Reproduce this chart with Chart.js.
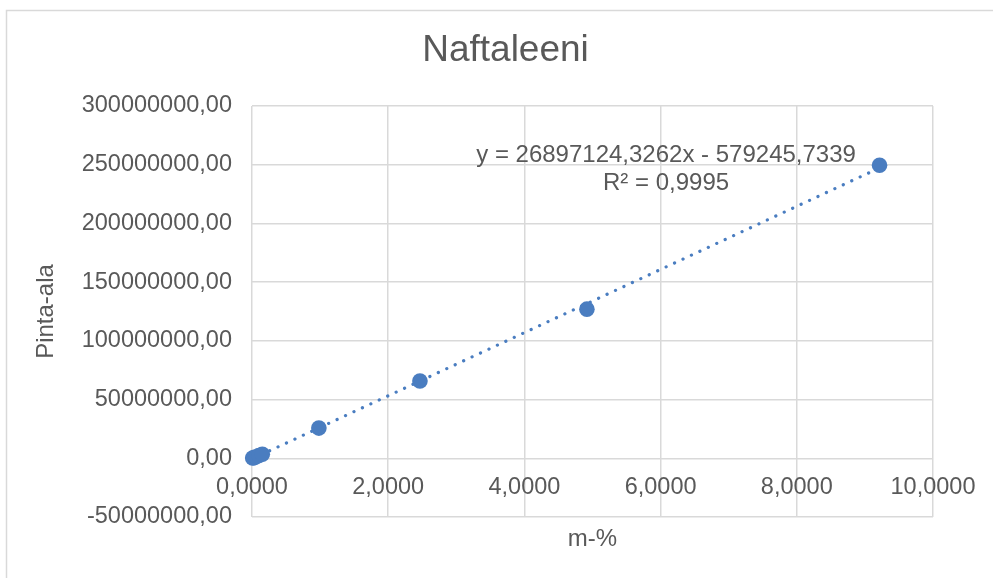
<!DOCTYPE html>
<html>
<head>
<meta charset="utf-8">
<title>Naftaleeni</title>
<script src="https://cdn.jsdelivr.net/npm/chart.js@4/dist/chart.umd.min.js"></script>
<style>
  html, body { margin: 0; padding: 0; background: #ffffff; }
  #wrap { width: 993px; height: 578px; position: relative; }
</style>
</head>
<body>
<div id="wrap"><canvas id="c"></canvas></div>
<script>
// Calibration series: concentration (m-%) vs. peak area
const mPercent = [0.0101, 0.0252, 0.0504, 0.1008, 0.1512, 0.982, 2.466, 4.918, 9.215];
const peakArea = [180000, 520000, 1150000, 2300000, 3500000, 25700000, 65800000, 127000000, 249600000];

// Linear trendline coefficients and fit quality
const slope = 26897124.3262;
const intercept = -579245.7339;
const rSquared = 0.9995;

const chartTitle = 'Naftaleeni';
const xTitle = 'm-%';
const yTitle = 'Pinta-ala';
const trendLabel = ['y = 26897124,3262x - 579245,7339', 'R² = 0,9995'];

const TEXT = '#595959';
const GRID = '#D9D9D9';
const BLUE = '#4A7DC0';
const FONT = "'Liberation Sans', Arial, sans-serif";

const points = mPercent.map((x, i) => ({ x: x, y: peakArea[i] }));
const xMin = Math.min(...mPercent);
const xMax = Math.max(...mPercent);
const trend = [xMin, xMax].map(x => ({ x: x, y: slope * x + intercept }));

const comma = (v, d) => v.toFixed(d).replace('.', ',');

// Frame, title, x axis title and trendline equation
const decorations = {
  id: 'decorations',
  beforeDraw(chart) {
    const ctx = chart.ctx;
    ctx.save();
    ctx.fillStyle = '#ffffff';
    ctx.fillRect(0, 0, chart.width, chart.height);
    ctx.strokeStyle = GRID;
    ctx.lineWidth = 1.5;
    ctx.strokeRect(6.5, 10.5, chart.width + 50, chart.height + 50);
    ctx.restore();
  },
  afterDraw(chart) {
    const ctx = chart.ctx;
    const a = chart.chartArea;
    ctx.save();
    ctx.fillStyle = TEXT;
    ctx.textAlign = 'center';
    ctx.textBaseline = 'middle';

    ctx.font = '37px ' + FONT;
    ctx.fillText(chartTitle, 505.5, 51);

    ctx.font = '24px ' + FONT;
    ctx.fillText(xTitle, (a.left + a.right) / 2, 539);

    const lx = a.left + (a.right - a.left) * 0.608;
    ctx.fillText(trendLabel[0], lx, 155);
    ctx.fillText(trendLabel[1], lx, 183);
    ctx.restore();
  }
};

new Chart(document.getElementById('c'), {
  type: 'scatter',
  data: {
    datasets: [
      {
        label: 'Naftaleeni',
        data: points,
        pointRadius: 7.8,
        pointHoverRadius: 7.8,
        pointBackgroundColor: BLUE,
        pointBorderColor: BLUE,
        pointBorderWidth: 0,
        showLine: false,
        clip: false,
        order: 0
      },
      {
        label: 'Lineaarinen',
        type: 'line',
        data: trend,
        showLine: true,
        pointRadius: 0,
        borderColor: BLUE,
        borderWidth: 3.2,
        borderDash: [0.1, 9.2],
        borderCapStyle: 'round',
        fill: false,
        tension: 0,
        order: 1
      }
    ]
  },
  options: {
    responsive: true,
    maintainAspectRatio: false,
    animation: false,
    devicePixelRatio: 1,
    layout: { padding: { left: 0, right: 60, top: 106, bottom: 61 } },
    plugins: {
      legend: { display: false },
      title: { display: false },
      tooltip: { enabled: false }
    },
    scales: {
      x: {
        type: 'linear',
        position: { y: 0 },
        min: 0,
        max: 10,
        ticks: {
          stepSize: 2,
          padding: 15,
          color: TEXT,
          font: { family: FONT, size: 23.5 },
          maxRotation: 0,
          callback: v => comma(v, 4)
        },
        grid: { color: GRID, lineWidth: 1.5, drawTicks: false },
        border: { display: false }
      },
      y: {
        type: 'linear',
        position: 'left',
        min: -50000000,
        max: 300000000,
        ticks: {
          stepSize: 50000000,
          padding: 20,
          color: TEXT,
          font: { family: FONT, size: 23.5 },
          callback: v => comma(v, 2)
        },
        grid: { color: GRID, lineWidth: 1.5, drawTicks: false },
        border: { display: false },
        title: {
          display: true,
          text: yTitle,
          color: TEXT,
          font: { family: FONT, size: 24 },
          padding: { top: 32, bottom: 0 }
        },
        afterFit(scale) { scale.width = 252; }
      }
    }
  },
  plugins: [decorations]
});
</script>
</body>
</html>
